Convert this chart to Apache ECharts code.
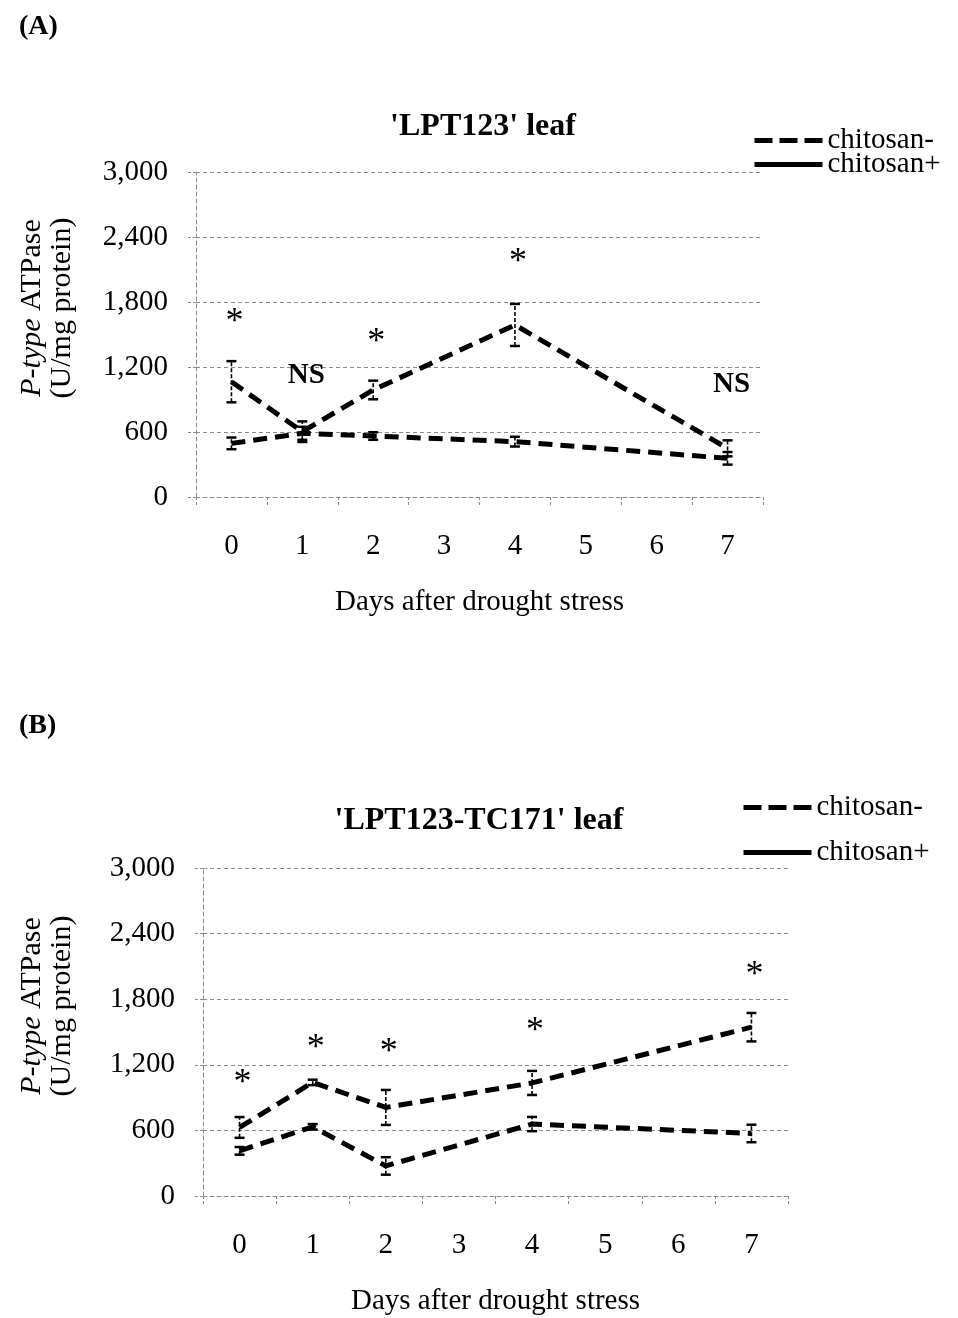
<!DOCTYPE html>
<html>
<head>
<meta charset="utf-8">
<script src="https://cdn.jsdelivr.net/npm/echarts@6/dist/echarts.min.js"></script>
<style>
  html, body { margin: 0; padding: 0; background: #fff; }
  #chart { width: 958px; height: 1318px; }
</style>
</head>
<body>
<div id="chart"></div>
<script>
// categories on x axis
var days = ['0', '1', '2', '3', '4', '5', '6', '7'];
var sampleDays = ['0', '1', '2', '4', '7'];
var yTicks = [0, 600, 1200, 1800, 2400, 3000];

// (A) 'LPT123' leaf
var aMinus = [495, 588, 563, 511, 357];
var aMinusErr = [54, 60, 35, 45, 58];
var aPlus = [1064, 603, 988, 1588, 449];
var aPlusErr = [190, 95, 86, 194, 74];
var aSigText = ['*', 'NS', '*', '*', 'NS'];
var aSigY = [1606, 1126, 1422, 2160, 1034];

// (B) 'LPT123-TC171' leaf
var bMinus = [413, 633, 275, 658, 572];
var bMinusErr = [35, 25, 80, 65, 80];
var bPlus = [627, 1039, 810, 1034, 1544];
var bPlusErr = [95, 25, 160, 110, 130];
var bSigText = ['*', '*', '*', '*', '*'];
var bSigY = [1028, 1349, 1312, 1505, 2018];

var FONT = '"Liberation Serif", "Times New Roman", serif';
var GRID_GRAY = '#8a8a8a';

function pairs(vals) {
	var out = [];
	for (var i = 0; i < vals.length; i++) out.push([sampleDays[i], vals[i]]);
	return out;
}
function errData(vals, errs) {
	var out = [];
	for (var i = 0; i < vals.length; i++) out.push([sampleDays[i], vals[i] - errs[i], vals[i] + errs[i]]);
	return out;
}
function sigData(ys) {
	var out = [];
	for (var i = 0; i < ys.length; i++) out.push([sampleDays[i], ys[i]]);
	return out;
}
var sigNames = { sigA: aSigText, sigB: bSigText };

//误差线
function renderErr(params, api) {
	var lo = api.coord([api.value(0), api.value(1)]);
	var hi = api.coord([api.value(0), api.value(2)]);
	var w = 5;
	return {
		type: 'group',
		children: [
			{ type: 'line', shape: { x1: lo[0], y1: lo[1], x2: hi[0], y2: hi[1] },
			  style: { stroke: '#000', lineWidth: 1.6, lineDash: [4, 2] } },
			{ type: 'line', shape: { x1: lo[0] - w, y1: lo[1], x2: lo[0] + w, y2: lo[1] },
			  style: { stroke: '#000', lineWidth: 2.5 } },
			{ type: 'line', shape: { x1: hi[0] - w, y1: hi[1], x2: hi[0] + w, y2: hi[1] },
			  style: { stroke: '#000', lineWidth: 2.5 } }
		]
	};
}

//显著性标记
function renderSig(params, api) {
	var p = api.coord([api.value(0), api.value(1)]);
	var t = sigNames[params.seriesName][params.dataIndex];
	return {
		type: 'text',
		x: p[0] + (t === 'NS' ? 4 : 3),
		y: p[1],
		style: {
			text: t,
			font: t === 'NS' ? 'bold 29px ' + FONT : '36px ' + FONT,
			fill: '#000',
			align: 'center',
			verticalAlign: 'middle'
		}
	};
}

function xAxisOpt(idx) {
	return {
		type: 'category',
		gridIndex: idx,
		data: days,
		boundaryGap: true,
		axisLine: { lineStyle: { color: GRID_GRAY, type: [4, 3], width: 1 } },
		axisTick: { show: true, length: 8, lineStyle: { color: GRID_GRAY, type: [3, 2] } },
		axisLabel: { color: '#000', fontSize: 29, fontFamily: FONT, margin: 35 },
		splitLine: { show: false },
		name: 'Days after drought stress',
		nameLocation: 'middle',
		nameGap: 91,
		nameTextStyle: { color: '#000', fontSize: 29, fontFamily: FONT }
	};
}
function yAxisOpt(idx) {
	return {
		type: 'value',
		gridIndex: idx,
		min: yTicks[0],
		max: yTicks[yTicks.length - 1],
		interval: 600,
		axisLine: { show: true, lineStyle: { color: GRID_GRAY, type: [4, 3], width: 1 } },
		axisTick: { show: true, length: 8, lineStyle: { color: GRID_GRAY, type: [3, 2] } },
		axisLabel: {
			color: '#000', fontSize: 29, fontFamily: FONT, margin: 28,
			formatter: function (v) { return v.toLocaleString('en-US'); }
		},
		splitLine: { show: true, lineStyle: { color: GRID_GRAY, type: [4, 3], width: 1 } }
	};
}
function lineSeries(name, vals, idx) {
	return {
		name: name,
		type: 'line',
		xAxisIndex: idx,
		yAxisIndex: idx,
		data: pairs(vals),
		showSymbol: false,
		symbol: 'none',
		lineStyle: { color: '#000', width: 5, type: [14, 8], cap: 'butt' },
		itemStyle: { color: '#000' },
		z: 3
	};
}
function errSeries(vals, errs, idx) {
	return {
		type: 'custom',
		xAxisIndex: idx,
		yAxisIndex: idx,
		renderItem: renderErr,
		data: errData(vals, errs),
		z: 4
	};
}
function legendOpt(left, top, gap) {
	return {
		orient: 'vertical',
		left: left,
		top: top,
		itemWidth: 68,
		itemHeight: 14,
		itemGap: gap,
		textStyle: { color: '#000', fontSize: 29, fontFamily: FONT },
		data: [
			{ name: 'chitosan-', lineStyle: { type: [18, 7], width: 5 }, itemStyle: { opacity: 0 } },
			{ name: 'chitosan+', lineStyle: { type: 'solid', width: 5 }, itemStyle: { opacity: 0 } }
		]
	};
}

var chart = echarts.init(document.getElementById('chart'));
var option = {
	backgroundColor: '#fff',
	animation: false,
	title: [
		{ text: '(A)', left: 14, top: 8, textStyle: { fontSize: 28, fontWeight: 'bold', fontFamily: FONT, color: '#000' } },
		{ text: '(B)', left: 14, top: 707, textStyle: { fontSize: 28, fontWeight: 'bold', fontFamily: FONT, color: '#000' } },
		{ text: "'LPT123' leaf", left: 478, top: 106, textAlign: 'center',
		  textStyle: { fontSize: 32, fontWeight: 'bold', fontFamily: FONT, color: '#000' } },
		{ text: "'LPT123-TC171' leaf", left: 474, top: 800, textAlign: 'center',
		  textStyle: { fontSize: 32, fontWeight: 'bold', fontFamily: FONT, color: '#000' } }
	],
	legend: [legendOpt(747, 121, -5), legendOpt(736, 788, 16)],
	grid: [
		{ left: 196, width: 567, top: 172, height: 325 },
		{ left: 203, width: 585, top: 868, height: 328 }
	],
	xAxis: [xAxisOpt(0), xAxisOpt(1)],
	yAxis: [yAxisOpt(0), yAxisOpt(1)],
	graphic: [
		{ type: 'text', x: 47, y: 308, rotation: Math.PI / 2,
		  style: { text: '{i|P-type} ATPase\n(U/mg protein)', font: '30px ' + FONT, fill: '#000',
		           align: 'center', verticalAlign: 'middle', lineHeight: 30,
		           rich: { i: { fontStyle: 'italic', fontSize: 30, fontFamily: FONT, lineHeight: 30 } } } },
		{ type: 'text', x: 47, y: 1006, rotation: Math.PI / 2,
		  style: { text: '{i|P-type} ATPase\n(U/mg protein)', font: '30px ' + FONT, fill: '#000',
		           align: 'center', verticalAlign: 'middle', lineHeight: 30,
		           rich: { i: { fontStyle: 'italic', fontSize: 30, fontFamily: FONT, lineHeight: 30 } } } }
	],
	series: [
		lineSeries('chitosan-', aMinus, 0),
		lineSeries('chitosan+', aPlus, 0),
		errSeries(aMinus, aMinusErr, 0),
		errSeries(aPlus, aPlusErr, 0),
		{ name: 'sigA', type: 'custom', xAxisIndex: 0, yAxisIndex: 0, renderItem: renderSig, data: sigData(aSigY), z: 5 },
		lineSeries('chitosan-', bMinus, 1),
		lineSeries('chitosan+', bPlus, 1),
		errSeries(bMinus, bMinusErr, 1),
		errSeries(bPlus, bPlusErr, 1),
		{ name: 'sigB', type: 'custom', xAxisIndex: 1, yAxisIndex: 1, renderItem: renderSig, data: sigData(bSigY), z: 5 }
	]
};
chart.setOption(option);
</script>
</body>
</html>
